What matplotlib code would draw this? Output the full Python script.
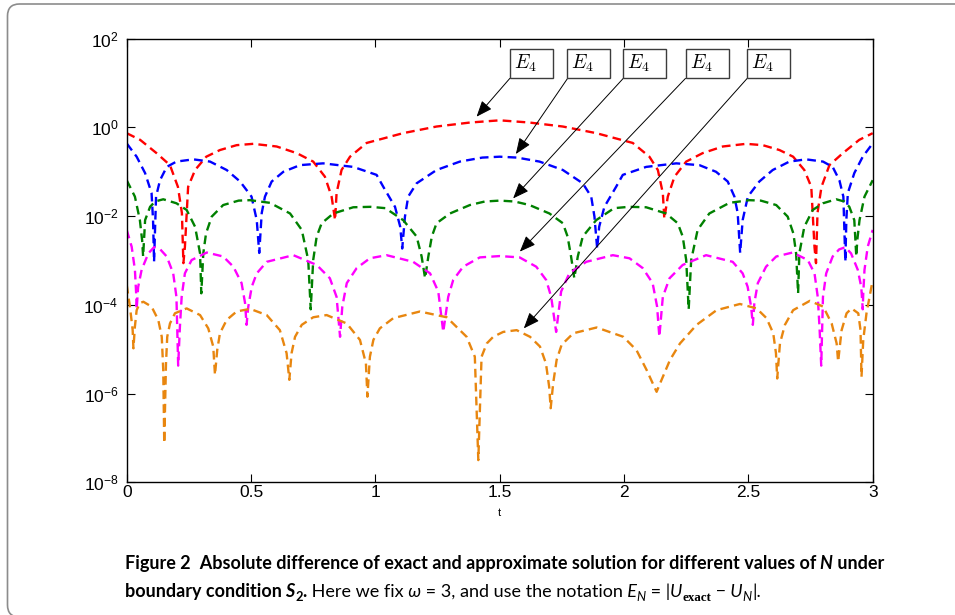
import numpy as np
import matplotlib
matplotlib.use("Agg")
import matplotlib.pyplot as plt
from matplotlib.patches import FancyBboxPatch
from matplotlib.transforms import IdentityTransform
from matplotlib.ticker import NullLocator

# --------------------------------------------------------------
# data: t and log10 |U_exact - U_N|
# --------------------------------------------------------------
red_t = [0.0, 0.054, 0.12, 0.174, 0.206, 0.222, 0.228,
         0.234, 0.247, 0.275, 0.32, 0.375, 0.442, 0.509, 0.603, 0.684, 0.75, 0.797, 0.824, 0.838,
         0.844, 0.864, 0.898, 0.965, 1.111, 1.246, 1.38, 1.5, 1.62, 1.754, 1.889, 2.035, 2.102, 2.136, 2.156, 2.162,
         2.176, 2.203, 2.25, 2.316, 2.397, 2.491, 2.558, 2.625, 2.68, 2.725, 2.753, 2.766, 2.772,
         2.778, 2.794, 2.826, 2.88, 2.946, 3.0]
red_exp = [-0.13, -0.28, -0.58, -0.85, -1.34, -1.93, -3.06,
           -2.7, -1.34, -0.96, -0.66, -0.51, -0.40, -0.37, -0.43, -0.58, -0.77, -1.11, -1.56, -2.09,
           -1.48, -0.96, -0.66, -0.35, -0.13, 0.02, 0.11, 0.16, 0.11, 0.02, -0.13, -0.35, -0.66, -0.96, -1.48, -2.06,
           -1.56, -1.11, -0.77, -0.58, -0.43, -0.37, -0.40, -0.51, -0.66, -0.96, -1.34, -2.7, -3.06,
           -1.93, -1.34, -0.85, -0.58, -0.28, -0.13]

blue_t = [0.0, 0.04, 0.074, 0.10, 0.106, 0.11,
          0.118, 0.134, 0.161, 0.20, 0.268, 0.335, 0.402, 0.456, 0.502, 0.523, 0.533,
          0.543, 0.556, 0.583, 0.63, 0.697, 0.79, 0.911, 1.005, 1.032, 1.079, 1.100, 1.108,
          1.119, 1.132, 1.166, 1.246, 1.34, 1.43, 1.5, 1.57, 1.66, 1.754, 1.834, 1.868, 1.881, 1.892,
          1.900, 1.921, 1.968, 1.995, 2.089, 2.21, 2.303, 2.37, 2.417, 2.444, 2.457, 2.467,
          2.477, 2.498, 2.544, 2.598, 2.665, 2.732, 2.80, 2.839, 2.866, 2.882, 2.89,
          2.894, 2.90, 2.926, 2.96, 3.0]
blue_exp = [-0.36, -0.66, -1.03, -1.48, -2.09, -3.03,
            -1.56, -1.19, -0.89, -0.77, -0.72, -0.77, -0.96, -1.22, -1.56, -2.09, -2.83,
            -1.93, -1.56, -1.22, -1.0, -0.85, -0.81, -0.89, -1.07, -1.34, -1.79, -2.24, -2.73,
            -2.01, -1.56, -1.26, -0.96, -0.77, -0.68, -0.66, -0.68, -0.77, -0.96, -1.26, -1.56, -2.01, -2.73,
            -2.24, -1.79, -1.34, -1.07, -0.89, -0.81, -0.85, -1.0, -1.22, -1.56, -1.93, -2.83,
            -2.09, -1.56, -1.22, -0.96, -0.77, -0.72, -0.77, -0.89, -1.19, -1.56, -3.03,
            -2.09, -1.48, -1.03, -0.66, -0.36]

green_t = [0.0, 0.033, 0.053, 0.062, 0.066,
           0.074, 0.094, 0.114, 0.147, 0.20, 0.241, 0.275, 0.295, 0.30,
           0.308, 0.319, 0.342, 0.388, 0.45, 0.496, 0.576, 0.657, 0.704, 0.73, 0.74,
           0.75, 0.764, 0.784, 0.831, 0.911, 0.98, 1.04, 1.112, 1.166, 1.186, 1.20,
           1.213, 1.227, 1.246, 1.30, 1.38, 1.44, 1.5, 1.56, 1.62, 1.70, 1.754, 1.773, 1.787, 1.80,
           1.814, 1.834, 1.888, 1.96, 2.02, 2.089, 2.169, 2.216, 2.236, 2.25, 2.26,
           2.27, 2.296, 2.343, 2.424, 2.504, 2.55, 2.612, 2.658, 2.681, 2.692, 2.70,
           2.705, 2.725, 2.759, 2.80, 2.853, 2.886, 2.906, 2.926, 2.934,
           2.938, 2.947, 2.967, 3.0]
green_exp = [-1.19, -1.56, -2.09, -2.54, -2.91,
             -2.09, -1.79, -1.67, -1.62, -1.71, -1.86, -2.24, -2.84, -3.74,
             -2.84, -2.39, -2.01, -1.75, -1.65, -1.64, -1.70, -1.94, -2.31, -2.99, -4.1,
             -2.99, -2.46, -2.16, -1.94, -1.80, -1.79, -1.82, -2.09, -2.46, -2.91, -3.4,
             -2.91, -2.46, -2.16, -1.94, -1.75, -1.67, -1.65, -1.67, -1.75, -1.94, -2.16, -2.46, -2.91, -3.4,
             -2.91, -2.46, -2.09, -1.82, -1.79, -1.80, -1.94, -2.16, -2.46, -2.99, -4.1,
             -2.99, -2.31, -1.94, -1.70, -1.64, -1.65, -1.75, -2.01, -2.39, -2.84, -3.74,
             -2.84, -2.24, -1.86, -1.71, -1.62, -1.67, -1.79, -2.09, -2.91,
             -2.54, -2.09, -1.56, -1.19]

magenta_t = [0.0, 0.02, 0.033, 0.038, 0.04,
             0.046, 0.06, 0.087, 0.11, 0.135, 0.161, 0.187, 0.2, 0.207,
             0.214, 0.221, 0.234, 0.261, 0.322, 0.388, 0.429, 0.462, 0.476, 0.482,
             0.489, 0.503, 0.523, 0.563, 0.67, 0.764, 0.817, 0.844, 0.858,
             0.867, 0.885, 0.925, 0.978, 1.045, 1.152, 1.22, 1.253, 1.273,
             1.293, 1.313, 1.353, 1.42, 1.5, 1.58, 1.647, 1.687, 1.707, 1.727,
             1.747, 1.78, 1.848, 1.955, 2.022, 2.075, 2.115, 2.133, 2.142,
             2.156, 2.183, 2.236, 2.33, 2.437, 2.477, 2.497, 2.511, 2.518,
             2.524, 2.538, 2.571, 2.612, 2.678, 2.739, 2.766, 2.779, 2.786, 2.793,
             2.80, 2.813, 2.839, 2.865, 2.89, 2.913, 2.94, 2.954, 2.96,
             2.962, 2.967, 2.98, 3.0]
magenta_exp = [-2.31, -2.69, -3.21, -3.74, -4.1,
               -3.6, -3.21, -2.84, -2.70, -2.75, -2.91, -3.29, -3.82, -5.37,
               -4.49, -3.82, -3.29, -2.99, -2.82, -2.91, -3.14, -3.51, -3.96, -4.45,
               -4.04, -3.59, -3.29, -3.03, -2.88, -3.10, -3.40, -3.82, -4.72,
               -4.04, -3.51, -3.17, -2.95, -2.88, -3.03, -3.29, -3.70, -4.61,
               -3.82, -3.44, -3.14, -2.93, -2.90, -2.93, -3.14, -3.44, -3.82, -4.61,
               -3.70, -3.29, -3.03, -2.88, -2.95, -3.17, -3.51, -4.04, -4.72,
               -3.82, -3.40, -3.10, -2.88, -3.03, -3.29, -3.59, -4.04, -4.45,
               -3.96, -3.51, -3.14, -2.91, -2.82, -2.99, -3.29, -3.82, -4.49, -5.37,
               -3.82, -3.29, -2.91, -2.75, -2.70, -2.84, -3.21, -3.6, -4.1,
               -3.74, -3.21, -2.69, -2.31]

orange_t = [0.0, 0.013, 0.024, 0.027,
            0.033, 0.04, 0.053, 0.067, 0.10, 0.127, 0.141, 0.147, 0.151,
            0.158, 0.163, 0.174, 0.194, 0.241, 0.295, 0.328, 0.348, 0.355,
            0.364, 0.375, 0.402, 0.442, 0.496, 0.563, 0.616, 0.643, 0.654,
            0.663, 0.677, 0.704, 0.75, 0.804, 0.885, 0.938, 0.962, 0.968,
            0.978, 0.992, 1.018, 1.072, 1.179, 1.287, 1.367, 1.40, 1.414,
            1.427, 1.448, 1.474, 1.514, 1.568, 1.622, 1.662, 1.686, 1.699, 1.705,
            1.715, 1.729, 1.749, 1.796, 1.89, 1.997, 2.05, 2.091, 2.131,
            2.151, 2.185, 2.225, 2.292, 2.372, 2.466, 2.533, 2.573, 2.60, 2.611, 2.616,
            2.627, 2.647, 2.68, 2.747, 2.801, 2.835, 2.855, 2.861,
            2.875, 2.895, 2.915, 2.942, 2.951, 2.955,
            2.962, 2.975, 3.0]
orange_exp = [-3.55, -4.04, -4.57, -4.98,
              -4.49, -4.12, -3.96, -3.93, -4.04, -4.34, -4.72, -5.47, -7.12,
              -5.32, -4.72, -4.42, -4.19, -4.08, -4.23, -4.53, -4.94, -5.58,
              -5.02, -4.64, -4.34, -4.15, -4.09, -4.23, -4.57, -5.09, -5.69,
              -5.09, -4.72, -4.45, -4.28, -4.23, -4.42, -4.79, -5.32, -6.07,
              -5.17, -4.79, -4.53, -4.30, -4.15, -4.28, -4.72, -5.17, -7.50,
              -5.17, -4.87, -4.72, -4.61, -4.57, -4.72, -4.94, -5.32, -5.85, -6.33,
              -5.77, -5.24, -4.90, -4.64, -4.51, -4.72, -5.02, -5.47, -5.96,
              -5.69, -5.24, -4.87, -4.45, -4.12, -3.98, -4.08, -4.30, -4.64, -5.09, -5.66,
              -4.87, -4.45, -4.12, -3.91, -4.04, -4.42, -4.87, -5.28,
              -4.57, -4.19, -4.08, -4.19, -4.57, -5.62,
              -4.79, -4.19, -3.44]

curves = [
    (red_t, red_exp, "#ff0000"),
    (blue_t, blue_exp, "#0000ff"),
    (green_t, green_exp, "#008000"),
    (magenta_t, magenta_exp, "#ff00ff"),
    (orange_t, orange_exp, "#e8860f"),
]

# text-arrow labels (one per curve, all read "E_4" in the original)
label_text = r"$E_4$   "
box_t = [1.627, 1.856, 2.084, 2.335, 2.582]
box_exp = 1.445
tip_t = [1.407, 1.565, 1.554, 1.581, 1.597]
tip_exp = [0.242, -0.60, -1.60, -2.80, -4.53]

xtick_vals = [0, 0.5, 1, 1.5, 2, 2.5, 3]
xtick_labels = ["0", "0.5", "1", "1.5", "2", "2.5", "3"]
ytick_vals = [1e-8, 1e-6, 1e-4, 1e-2, 1e0, 1e2]

W, H = 955, 615
plt.rcParams["font.family"] = ["Liberation Sans", "DejaVu Sans"]
CAP_FONT = ["Lato", "DejaVu Sans"]

fig = plt.figure(figsize=(W / 100, H / 100), dpi=100)

# rounded frame around the whole figure (open to the right/bottom)
frame = FancyBboxPatch((7.5, -2), 980, 613, boxstyle="round,pad=0,rounding_size=12",
                       transform=IdentityTransform(), fill=False, ec="#8c8c8c", lw=1.2)
fig.add_artist(frame)

ax = fig.add_axes([126.7 / W, 1 - 482.3 / H, 746.0 / W, 443.6 / H])
for t, e, c in curves:
    ax.plot(t, 10.0 ** np.array(e), color=c, lw=1.7, linestyle=(0, (3.7, 2.2)))

ax.set_yscale("log")
ax.set_xlim(0, 3)
ax.set_ylim(1e-8, 1e2)
ax.set_yticks(ytick_vals)
ax.yaxis.set_minor_locator(NullLocator())
ax.set_xticks(xtick_vals)
ax.set_xticklabels(xtick_labels)
ax.tick_params(direction="in", top=True, right=True, length=6, width=0.8,
               labelsize=12.5, colors="black")
ax.tick_params(axis="x", pad=2)
ax.tick_params(axis="y", pad=6)
for s in ax.spines.values():
    s.set_linewidth(1.0)
ax.set_xlabel("t", fontsize=8, labelpad=6)

for i in range(len(box_t)):
    ax.annotate(label_text, xy=(tip_t[i], 10.0 ** tip_exp[i]),
                xytext=(box_t[i], 10.0 ** box_exp), textcoords="data",
                ha="center", va="center", fontsize=14, math_fontfamily="cm",
                bbox=dict(boxstyle="square,pad=0.2", fc="white", ec="#3c3c3c", lw=1.0),
                arrowprops=dict(arrowstyle="-|>,head_length=0.7,head_width=0.28",
                                color="black", lw=0.7, relpos=(0, 0),
                                shrinkA=0, shrinkB=0),
                annotation_clip=False)

# --------------------------------------------------------------
# caption, written as runs of differently styled text
# --------------------------------------------------------------
B = dict(weight="bold")
BI = dict(weight="bold", style="italic")
R = dict()
I = dict(style="italic")

line1 = [("Figure 2", B),
         ("  Absolute difference of exact and approximate solution for different values of", B),
         (" N", BI), (" under", B)]
line2 = [("boundary condition", B), (" S", BI), ("2", dict(weight="bold", sub=True)),
         (".", B), (" Here we fix", R), (" \u03c9", I), (" = 3, and use the notation", R),
         (" E", I), ("N", dict(style="italic", sub=True)), (" = |", R), ("U", I),
         ("exact", dict(weight="bold", family=["Liberation Serif"], sub=True)),
         (" \u2212", R), (" U", I), ("N", dict(style="italic", sub=True)), ("|.", R)]


def draw_runs(x_px, base_px, runs, size):
    rend = fig.canvas.get_renderer()
    x = x_px
    made = []
    for text, style in runs:
        st = dict(style)
        sub = st.pop("sub", False)
        fam = st.pop("family", CAP_FONT)
        fs = size * (0.72 if sub else 1.0)
        y = base_px + (size * 0.3 if sub else 0)
        txt = fig.text(x / W, 1 - y / H, text, fontsize=fs, family=fam,
                       ha="left", va="baseline", **st)
        made.append(txt)
        x = txt.get_window_extent(rend).x1
    return made, x - x_px


tmp, width1 = draw_runs(125, 569, line1, 14)
for t in tmp:
    t.remove()
cap_size = 14 * 761.0 / width1
draw_runs(125, 569, line1, cap_size)
draw_runs(125, 597, line2, cap_size)

fig.savefig("out.png", dpi=100)
